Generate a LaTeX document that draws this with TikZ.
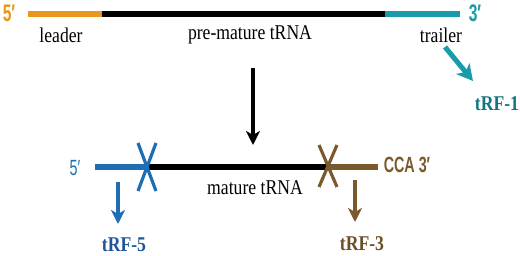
\documentclass[tikz,border=0pt]{standalone}
\usepackage{fontspec}
\setmainfont{Liberation Serif}
\newfontfamily\condserif[FakeStretch=0.84]{Liberation Serif}
\newfontfamily\condsans[FakeStretch=0.65]{Liberation Sans}
\usepackage{tikz}
\usetikzlibrary{arrows.meta}
\definecolor{leadercolor}{HTML}{E8961E}
\definecolor{trailercolor}{HTML}{1A9BAA}
\definecolor{fivecolor}{HTML}{1F6DB3}
\definecolor{threecolor}{HTML}{7A5A2C}
\definecolor{trfonecolor}{HTML}{137482}
\definecolor{trffivecolor}{HTML}{1F569A}
\definecolor{trfthreecolor}{HTML}{6B4E26}
\tikzset{
    strand/.style={line width=2.6pt},
    cut/.style={line width=1.6pt},
    split/.style={line width=1.6pt, -{Stealth[length=7pt, width=7pt, inset=2pt]}},
    lbl/.style={font=\condserif\fontsize{10.5}{12}\selectfont},
    trf/.style={font=\condserif\bfseries\fontsize{10.5}{12}\selectfont},
    endlbl/.style={font=\condsans\fontsize{11}{12}\selectfont}
}

\begin{document}
\begin{tikzpicture}[x=0.5pt, y=-0.5pt, every node/.style={inner sep=0pt}]
    \useasboundingbox (0,0) rectangle (520,256);

    % Pre-mature tRNA
    \coordinate (lead) at (28,14);
    \coordinate (body) at (102,14);
    \coordinate (trail) at (385,14);
    \coordinate (tail) at (460,14);
    \draw[strand, leadercolor] (lead) -- (body);
    \draw[strand, black] (body) -- (trail);
    \draw[strand, trailercolor] (trail) -- (tail);
    \node[endlbl, font=\condsans\bfseries\fontsize{12}{12}\selectfont, color=leadercolor] (fiveP) at (9,13) {5′};
    \node[endlbl, font=\condsans\bfseries\fontsize{12}{12}\selectfont, color=trailercolor] (threeP) at (475,13) {3′};
    \node[lbl] (leader) at (61,35) {leader};
    \node[lbl] (pre) at (250,35) {pre-mature tRNA};
    \node[lbl] (trailer) at (441,35) {trailer};

    % Trailer cleaved off
    \coordinate (tstart) at (445,47);
    \coordinate (tend) at (473,81);
    \draw[split, line width=2.5pt, trailercolor, -{Stealth[length=8pt, width=8.5pt, inset=2.2pt]}] (tstart) -- (tend);
    \node[trf, color=trfonecolor] (trfone) at (497,104) {tRF-1};

    % Processing
    \coordinate (ptop) at (253,68);
    \coordinate (pbot) at (253,145);
    \draw[split, black] (ptop) -- (pbot);

    % Mature tRNA
    \coordinate (mfive) at (95,167);
    \coordinate (cutA) at (147,167);
    \coordinate (cutB) at (328,167);
    \coordinate (mthree) at (378,167);
    \draw[strand, fivecolor] (mfive) -- (cutA);
    \draw[strand, black] (cutA) -- (cutB);
    \draw[strand, threecolor] (cutB) -- (mthree);
    \draw[cut, fivecolor] (138,143) -- (156,191) (156,143) -- (138,191);
    \draw[cut, threecolor] (319,145) -- (337,187) (337,145) -- (319,187);
    \node[endlbl, color=fivecolor] (mfiveP) at (75,168) {5′};
    \node[endlbl, font=\condsans\bfseries\fontsize{11}{12}\selectfont, color=threecolor] (cca) at (407,165) {CCA 3′};
    \node[lbl] (mature) at (255,188) {mature tRNA};

    % Fragments
    \coordinate (fA) at (118,182);
    \coordinate (fB) at (118,224);
    \draw[split, fivecolor] (fA) -- (fB);
    \node[trf, color=trffivecolor] (trffive) at (124,245) {tRF-5};
    \coordinate (gA) at (355,180);
    \coordinate (gB) at (355,222);
    \draw[split, threecolor] (gA) -- (gB);
    \node[trf, color=trfthreecolor] (trfthree) at (362,244) {tRF-3};
\end{tikzpicture}
\end{document}
